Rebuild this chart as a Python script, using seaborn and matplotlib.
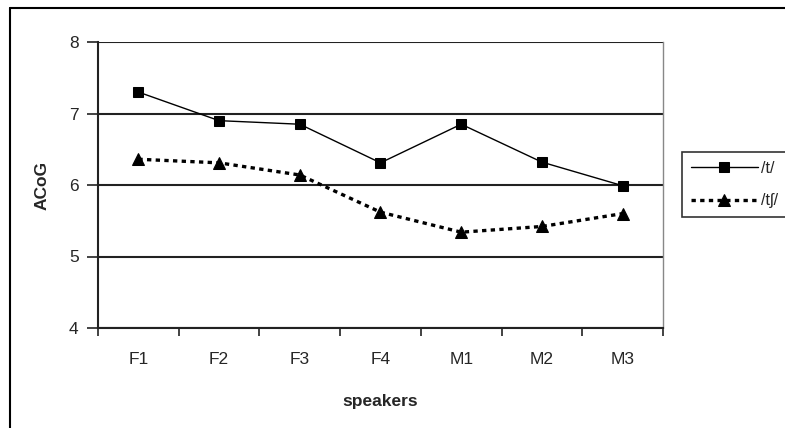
import pandas as pd
import seaborn as sns
import matplotlib.pyplot as plt
from matplotlib.lines import Line2D
from matplotlib.ticker import FixedLocator

# Data
speakers = ["F1", "F2", "F3", "F4", "M1", "M2", "M3"]
acog_t = [7.30, 6.90, 6.85, 6.31, 6.85, 6.32, 5.99]
acog_tsh = [6.36, 6.31, 6.14, 5.62, 5.34, 5.42, 5.60]
series_labels = ["/t/", "/t\u0283/"]

sns.set_theme(style="white")
plt.rcParams['font.family'] = ['Liberation Sans', 'DejaVu Sans']

df = pd.DataFrame({"speakers": speakers, "t": acog_t, "tsh": acog_tsh})

fig = plt.figure(figsize=(7.85, 4.28), dpi=100)
ax = fig.add_axes([98 / 785, 1 - 328 / 428, (663 - 98) / 785, (328 - 42) / 428])

sns.lineplot(data=df, x="speakers", y="t", ax=ax, color="black", linewidth=1.0,
             marker="s", markersize=7, markeredgecolor="black", label=series_labels[0])
sns.lineplot(data=df, x="speakers", y="tsh", ax=ax, color="black", linewidth=2.4,
             linestyle=(0, (1.3, 1.3)), marker="^", markersize=8,
             markeredgecolor="black", label=series_labels[1])

ax.set_xlim(-0.5, len(speakers) - 0.5)
ax.set_ylim(4, 8)
ax.set_yticks([4, 5, 6, 7, 8])
ax.yaxis.grid(True, color="#222222", linewidth=1.5)
ax.set_axisbelow(True)

# category ticks sit between the categories
ax.xaxis.set_minor_locator(FixedLocator([i - 0.5 for i in range(len(speakers) + 1)]))
ax.tick_params(axis="x", which="major", length=0, labelsize=12.5, pad=17)
ax.tick_params(axis="x", which="minor", direction="out", length=6, width=1.2,
               color="#222222", bottom=True)
ax.tick_params(axis="y", direction="out", length=8, width=1.2, color="#222222",
               labelsize=12.5, pad=6, left=True)

for side in ["left", "bottom"]:
    ax.spines[side].set_color("#222222")
    ax.spines[side].set_linewidth(1.5)
ax.spines["right"].set_color("#888888")
ax.spines["right"].set_linewidth(1.0)
ax.spines["top"].set_visible(False)

ax.set_xlabel("speakers", fontsize=12.5, fontweight="bold", labelpad=20)
ax.set_ylabel("ACoG", fontsize=12.5, fontweight="bold", labelpad=14)

leg = ax.legend(loc="center left", bbox_to_anchor=(682 / 785, 1 - 184.5 / 428),
                bbox_transform=fig.transFigure, frameon=True, fancybox=False,
                fontsize=11.5, handlelength=4.2, borderpad=0.55, labelspacing=1.1,
                handletextpad=0.2, borderaxespad=0)
leg.get_frame().set_edgecolor("black")
leg.get_frame().set_linewidth(1.2)

# outer chart frame (top and left edges visible)
fig.add_artist(Line2D([10 / 785, 10 / 785], [0, 1 - 8 / 428], transform=fig.transFigure,
                      color="black", linewidth=1.5))
fig.add_artist(Line2D([10 / 785, 1], [1 - 8 / 428, 1 - 8 / 428], transform=fig.transFigure,
                      color="black", linewidth=1.5))

fig.savefig("out.png", dpi=100)
